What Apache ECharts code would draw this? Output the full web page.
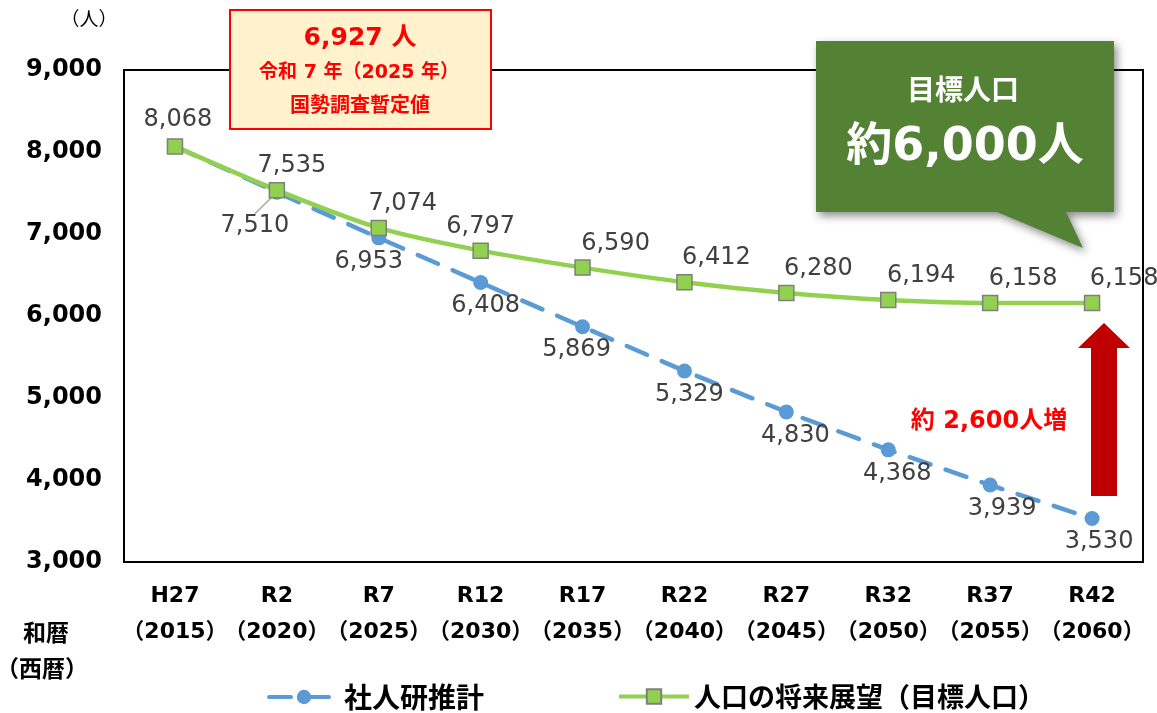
<!DOCTYPE html>
<html>
<head>
<meta charset="utf-8">
<script src="https://cdn.jsdelivr.net/npm/echarts@6/dist/echarts.min.js"></script>
<style>
  html, body { margin: 0; padding: 0; background: #fff; }
  #chart { width: 1157px; height: 713px; }
</style>
</head>
<body>
<div id="chart"></div>
<script>
// 和暦・西暦
var categories = ['H27\n（2015）', 'R2\n（2020）', 'R7\n（2025）', 'R12\n（2030）', 'R17\n（2035）',
  'R22\n（2040）', 'R27\n（2045）', 'R32\n（2050）', 'R37\n（2055）', 'R42\n（2060）'];
// 社人研推計
var shajinkenValues = [8068, 7510, 6953, 6408, 5869, 5329, 4830, 4368, 3939, 3530];
// 人口の将来展望（目標人口）
var tenbouValues = [8068, 7535, 7074, 6797, 6590, 6412, 6280, 6194, 6158, 6158];
// y軸
var yMin = 3000, yMax = 9000, yStep = 1000;

// 数字はDejaVu、日本語はNoto CJKにフォールバック
var FONT = '"DejaVu Sans", "Noto Sans CJK JP", sans-serif';
var JP = '"Noto Sans CJK JP", sans-serif';
var labelColor = '#404040';

// ラベル位置の微調整（元図に合わせる）
var tenbouLabelOffset = [[3, -2], [15, 0], [24, 0], [0, 0], [33, 0], [32, 0], [32, 0], [33, 0], [33, 0], [32, 0]];
var shajinkenLabelDx = [0, -22, -10, 5, -6, 5, 9, 9, 12, 7];

function fmt(v) {
  return String(v).replace(/\B(?=(\d{3})+(?!\d))/g, ',');
}

var blueData = shajinkenValues.map(function (v, i) {
  var item = { value: v };
  if (i === 0) item.label = { show: false };
  if (i === 1) item.labelLine = { show: true, lineStyle: { color: '#a6a6a6', width: 1.5 } };
  return item;
});
var greenData = tenbouValues.map(function (v, i) {
  return { value: v, label: { offset: tenbouLabelOffset[i] } };
});

var chart = echarts.init(document.getElementById('chart'));
var option = {
  backgroundColor: '#fff',
  animation: false,
  textStyle: { fontFamily: FONT },
  grid: {
    left: 124, right: 14, top: 70, bottom: 151,
    show: true, borderColor: '#000', borderWidth: 2, backgroundColor: 'transparent'
  },
  legend: [{
    data: ['社人研推計'],
    left: 262, top: 678,
    itemWidth: 70, itemHeight: 18, itemGap: 12,
    lineStyle: { width: 4 },
    textStyle: { fontFamily: JP, fontSize: 28, fontWeight: 'bold', color: '#000' }
  }, {
    data: ['人口の将来展望（目標人口）'],
    left: 612, top: 678,
    itemWidth: 70, itemHeight: 18,
    lineStyle: { width: 4 },
    textStyle: { fontFamily: JP, fontSize: 27, fontWeight: 'bold', color: '#000' }
  }],
  xAxis: {
    type: 'category',
    data: categories,
    boundaryGap: true,
    axisLine: { show: false },
    axisTick: { show: false },
    axisLabel: {
      interval: 0,
      margin: 16,
      fontFamily: FONT, fontSize: 22, fontWeight: 'bold', color: '#000', lineHeight: 36
    }
  },
  yAxis: {
    type: 'value',
    min: yMin, max: yMax, interval: yStep,
    axisLine: { show: false },
    axisTick: { show: false },
    splitLine: { show: false },
    axisLabel: {
      margin: 22,
      fontFamily: FONT, fontSize: 24, fontWeight: 'bold', color: '#000',
      formatter: function (v) { return fmt(v); }
    }
  },
  series: [{
    name: '社人研推計',
    type: 'line',
    data: blueData,
    symbol: 'circle',
    symbolSize: 15,
    itemStyle: { color: '#5B9BD5' },
    lineStyle: { color: '#5B9BD5', width: 4.5, type: [22, 16], cap: 'round' },
    label: {
      show: true, position: 'bottom', distance: 4,
      fontFamily: FONT, fontSize: 24, color: labelColor,
      formatter: function (p) { return fmt(p.value); }
    },
    labelLayout: function (p) {
      // 7,510 は引き出し線付きで左下へ
      if (p.dataIndex === 1) return { dx: -22, dy: 10 };
      return { dx: shajinkenLabelDx[p.dataIndex] };
    },
    z: 2
  }, {
    name: '人口の将来展望（目標人口）',
    type: 'line',
    data: greenData,
    smooth: 0.3,
    symbol: 'rect',
    symbolSize: 15,
    itemStyle: { color: '#92D050', borderColor: '#7F7F7F', borderWidth: 1.5 },
    lineStyle: { color: '#92D050', width: 4.5 },
    label: {
      show: true, position: 'top', distance: 4,
      fontFamily: FONT, fontSize: 24, color: labelColor,
      formatter: function (p) { return fmt(p.value); }
    },
    z: 3
  }],
  graphic: [
    // （人）
    { type: 'text', x: 89, y: 19, style: { text: '（人）', font: '19px ' + JP, fill: '#000', align: 'center', verticalAlign: 'middle' } },
    // 和暦（西暦）
    { type: 'text', x: 46, y: 632, style: { text: '和暦', font: 'bold 23px ' + JP, fill: '#000', align: 'center', verticalAlign: 'middle' } },
    { type: 'text', x: 42, y: 668, style: { text: '（西暦）', font: 'bold 23px ' + JP, fill: '#000', align: 'center', verticalAlign: 'middle' } },
    // 国勢調査暫定値 ボックス
    {
      type: 'rect', shape: { x: 230, y: 10, width: 261, height: 119 },
      style: { fill: '#FFF2CC', stroke: '#FF0000', lineWidth: 2 }, z: 10
    },
    {
      type: 'text', x: 360, y: 38, z: 11,
      style: { text: '6,927 人', font: 'bold 25px ' + FONT, fill: '#FF0000', align: 'center', verticalAlign: 'middle' }
    },
    {
      type: 'text', x: 359, y: 73, z: 11,
      style: { text: '令和 7 年（2025 年）', font: 'bold 19px ' + FONT, fill: '#FF0000', align: 'center', verticalAlign: 'middle' }
    },
    {
      type: 'text', x: 360, y: 104, z: 11,
      style: { text: '国勢調査暫定値', font: 'bold 20px ' + JP, fill: '#FF0000', align: 'center', verticalAlign: 'middle' }
    },
    // 目標人口 吹き出し
    {
      type: 'polygon', z: 10,
      shape: { points: [[816, 41], [1114, 41], [1114, 212], [1066, 212], [1083, 248], [997, 212], [816, 212]] },
      style: { fill: '#548235', shadowBlur: 8, shadowColor: 'rgba(0,0,0,0.45)', shadowOffsetX: 3, shadowOffsetY: 4 }
    },
    {
      type: 'text', x: 963, y: 89, z: 11,
      style: { text: '目標人口', font: 'bold 28px ' + JP, fill: '#fff', align: 'center', verticalAlign: 'middle' }
    },
    {
      type: 'text', x: 965, y: 148, z: 11,
      style: { text: '約6,000人', font: 'bold 46px ' + FONT, fill: '#fff', align: 'center', verticalAlign: 'middle' }
    },
    // 増加の矢印
    {
      type: 'polygon', z: 10,
      shape: { points: [[1104, 323], [1130, 348], [1117, 348], [1117, 496], [1091, 496], [1091, 348], [1078, 348]] },
      style: { fill: '#C00000' }
    },
    {
      type: 'text', x: 989, y: 422, z: 11,
      style: { text: '約 2,600人増', font: 'bold 24px ' + FONT, fill: '#FF0000', align: 'center', verticalAlign: 'middle' }
    }
  ]
};
chart.setOption(option);
</script>
</body>
</html>
